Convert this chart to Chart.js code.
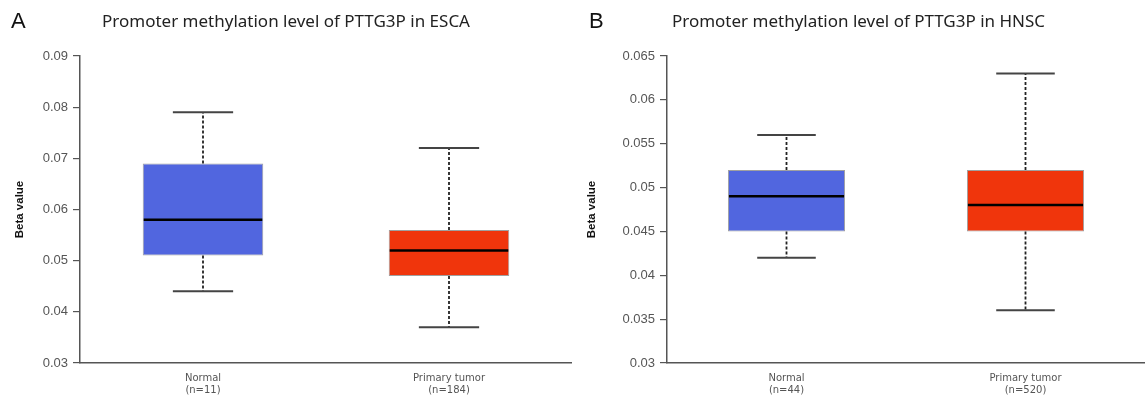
<!DOCTYPE html>
<html>
<head>
<meta charset="utf-8">
<script src="https://cdn.jsdelivr.net/npm/chart.js@4"></script>
<style>
  body { margin: 0; background: #fff; width: 1145px; height: 400px; overflow: hidden; position: relative; }
  .panel { position: absolute; top: 0; height: 400px; }
  .tag { position: absolute; top: 8px; font: 22px "Liberation Sans", Arial, sans-serif; color: #111; }
</style>
</head>
<body>
<div class="panel" style="left:0;width:572px"><canvas id="escaChart"></canvas></div>
<div class="panel" style="left:572px;width:573px"><canvas id="hnscChart"></canvas></div>
<div class="tag" style="left:11px">A</div>
<div class="tag" style="left:589px">B</div>
<script>
// box plot data
const groups = ["Normal", "Primary tumor"];
const boxColors = ["#5166DF", "#F0350C"];

const escaN = [11, 184];
const escaMin = [0.044, 0.037];
const escaQ1 = [0.051, 0.047];
const escaMed = [0.058, 0.052];
const escaQ3 = [0.069, 0.056];
const escaMax = [0.079, 0.072];

const hnscN = [44, 520];
const hnscMin = [0.042, 0.036];
const hnscQ1 = [0.045, 0.045];
const hnscMed = [0.049, 0.048];
const hnscQ3 = [0.052, 0.052];
const hnscMax = [0.056, 0.063];

// whiskers + median, drawn with the chart's own scales
const whiskerPlugin = {
    id: "whiskers",
    afterDatasetsDraw(chart) {
        const stats = chart.options.plugins.whiskers;
        const meta = chart.getDatasetMeta(0);
        const y = chart.scales.y;
        const ctx = chart.ctx;
        ctx.save();
        meta.data.forEach((bar, i) => {
            const x = bar.x;
            const half = bar.width / 2;
            const cap = bar.width / 4;
            const yMin = y.getPixelForValue(stats.min[i]);
            const yQ1 = y.getPixelForValue(stats.q1[i]);
            const yMed = y.getPixelForValue(stats.med[i]);
            const yQ3 = y.getPixelForValue(stats.q3[i]);
            const yMax = y.getPixelForValue(stats.max[i]);

            // dashed whisker stems
            ctx.strokeStyle = "#222";
            ctx.lineWidth = 1.8;
            ctx.setLineDash([3, 2]);
            ctx.beginPath();
            ctx.moveTo(x, yQ3); ctx.lineTo(x, yMax);
            ctx.moveTo(x, yQ1); ctx.lineTo(x, yMin);
            ctx.stroke();

            // caps
            ctx.setLineDash([]);
            ctx.strokeStyle = "#444";
            ctx.lineWidth = 2;
            ctx.beginPath();
            ctx.moveTo(x - cap, yMax); ctx.lineTo(x + cap, yMax);
            ctx.moveTo(x - cap, yMin); ctx.lineTo(x + cap, yMin);
            ctx.stroke();

            // median
            ctx.strokeStyle = "#000";
            ctx.lineWidth = 2.5;
            ctx.beginPath();
            ctx.moveTo(x - half + 1, yMed); ctx.lineTo(x + half - 1, yMed);
            ctx.stroke();
        });
        ctx.restore();
    }
};

function makeBoxChart(chartId, title, n, mins, q1s, meds, q3s, maxs, yMin, yMax, step, axisWidth) {
    const labels = groups.map((g, i) => [g, "(n=" + n[i] + ")"]);
    const boxes = q1s.map((q, i) => [q, q3s[i]]);

    return new Chart(document.getElementById(chartId), {
        type: "bar",
        data: {
            labels,
            datasets: [{
                data: boxes,
                backgroundColor: boxColors,
                borderColor: "#a0a0a0",
                borderWidth: 1,
                borderSkipped: false,
                barPercentage: 0.49,
                categoryPercentage: 1
            }]
        },
        options: {
            responsive: false,
            animation: false,
            events: [],
            plugins: {
                legend: { display: false },
                tooltip: { enabled: false },
                title: {
                    display: true,
                    text: title,
                    color: "#222",
                    font: { family: "'Noto Sans', sans-serif", size: 17, weight: "normal" },
                    padding: { top: 12, bottom: 23.6 }
                },
                whiskers: { min: mins, q1: q1s, med: meds, q3: q3s, max: maxs }
            },
            scales: {
                x: {
                    grid: { display: false, drawTicks: false },
                    border: { display: true, color: "#555", width: 1.5 },
                    ticks: {
                        color: "#555",
                        padding: 9,
                        font: { family: "'DejaVu Sans', sans-serif", size: 10 }
                    },
                    afterFit(scale) { scale.height = 37; }
                },
                y: {
                    min: yMin,
                    max: yMax,
                    grid: { drawOnChartArea: false, drawTicks: true, tickLength: 7, color: "#555", lineWidth: 1.2 },
                    border: { display: true, color: "#555", width: 1.5 },
                    ticks: {
                        stepSize: step,
                        color: "#555",
                        padding: 5,
                        font: { family: "'Liberation Sans', Arial, sans-serif", size: 13 },
                        callback: v => parseFloat(v.toFixed(3)).toString()
                    },
                    title: {
                        display: true,
                        text: "Beta value",
                        color: "#111",
                        font: { family: "'Liberation Sans', Arial, sans-serif", size: 11.5, weight: "bold" },
                        padding: { top: 13, bottom: 0 }
                    },
                    afterFit(scale) { scale.width = axisWidth; }
                }
            }
        },
        plugins: [whiskerPlugin]
    });
}

const escaCanvas = document.getElementById("escaChart");
escaCanvas.width = 572; escaCanvas.height = 400;
const hnscCanvas = document.getElementById("hnscChart");
hnscCanvas.width = 573; hnscCanvas.height = 400;

makeBoxChart("escaChart", "Promoter methylation level of PTTG3P in ESCA",
    escaN, escaMin, escaQ1, escaMed, escaQ3, escaMax, 0.03, 0.09, 0.01, 80);
makeBoxChart("hnscChart", "Promoter methylation level of PTTG3P in HNSC",
    hnscN, hnscMin, hnscQ1, hnscMed, hnscQ3, hnscMax, 0.03, 0.065, 0.005, 95);
</script>
</body>
</html>
